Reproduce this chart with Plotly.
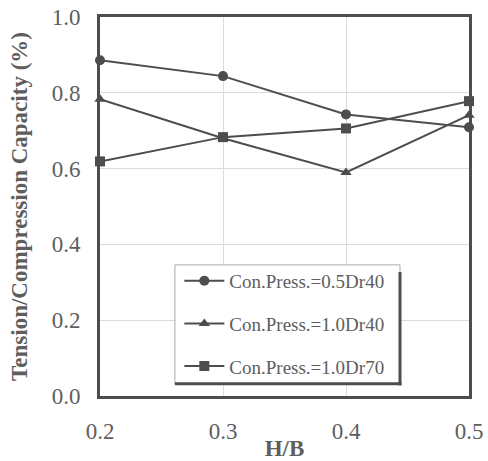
import plotly.graph_objects as go

hb = [0.2, 0.3, 0.4, 0.5]
s_05dr40 = [0.886, 0.844, 0.743, 0.709]
s_10dr40 = [0.783, 0.680, 0.590, 0.741]
s_10dr70 = [0.619, 0.683, 0.706, 0.778]
names = ["Con.Press.=0.5Dr40", "Con.Press.=1.0Dr40", "Con.Press.=1.0Dr70"]
symbols = ["circle", "triangle-up", "square"]
x_ticks = [0.2, 0.3, 0.4, 0.5]
y_ticks = [0.0, 0.2, 0.4, 0.6, 0.8, 1.0]

C = "#4d4d4d"
TXT = "#5e5e5e"
FONT = "Liberation Serif, Times New Roman, serif"

fig = go.Figure()
for i, (ys, nm, sym) in enumerate(zip([s_05dr40, s_10dr40, s_10dr70], names, symbols)):
    fig.add_trace(go.Scatter(
        x=hb, y=ys, name=nm, mode="lines+markers", legendgroup=f"g{i}",
        line=dict(color=C, width=2),
        marker=dict(symbol=sym, size=10, color=C),
        cliponaxis=False,
    ))

# legend box with drop shadow
fig.add_shape(type="rect", xref="paper", yref="paper",
              x0=0.203, x1=0.813, y0=0.032, y1=0.346,
              line=dict(color="#aaaaaa", width=1), fillcolor="white", layer="above")
fig.add_shape(type="line", xref="paper", yref="paper",
              x0=0.813, x1=0.813, y0=0.028, y1=0.327,
              line=dict(color=C, width=3), layer="above")
fig.add_shape(type="line", xref="paper", yref="paper",
              x0=0.203, x1=0.817, y0=0.032, y1=0.032,
              line=dict(color=C, width=3), layer="above")

fig.update_layout(
    width=488, height=461,
    margin=dict(l=100, r=19, t=17, b=65),
    paper_bgcolor="white", plot_bgcolor="white",
    font=dict(family=FONT, color=TXT, size=23),
    showlegend=True,
    legend=dict(x=0.215, y=0.354, xanchor="left", yanchor="top",
                bgcolor="rgba(0,0,0,0)", borderwidth=0,
                font=dict(family=FONT, size=19, color=TXT),
                itemwidth=40,
                traceorder="grouped", tracegroupgap=15),
    xaxis=dict(range=[0.2, 0.5], tickvals=x_ticks, ticktext=[f"{v:.1f}" for v in x_ticks],
               showgrid=True, gridcolor="#dcdcdc", gridwidth=1,
               showline=True, linecolor=C, linewidth=3, mirror=True,
               ticks="", ticklabelstandoff=12, zeroline=False, automargin=False,
               title=dict(text="<b>H/B</b>", standoff=9,
                          font=dict(family=FONT, size=23, color=TXT))),
    yaxis=dict(range=[0, 1.0], tickvals=y_ticks, ticktext=[f"{v:.1f}" for v in y_ticks],
               showgrid=True, gridcolor="#dcdcdc", gridwidth=1,
               showline=True, linecolor=C, linewidth=3, mirror=True,
               ticks="", ticklabelstandoff=12, zeroline=False, automargin=False,
               title=dict(text="<b>Tension/Compression Capacity (%)</b>", standoff=18,
                          font=dict(family=FONT, size=23, color=TXT))),
)

fig.write_html("out.html", config={"displayModeBar": False},
               post_script="document.body.style.margin='0';")
